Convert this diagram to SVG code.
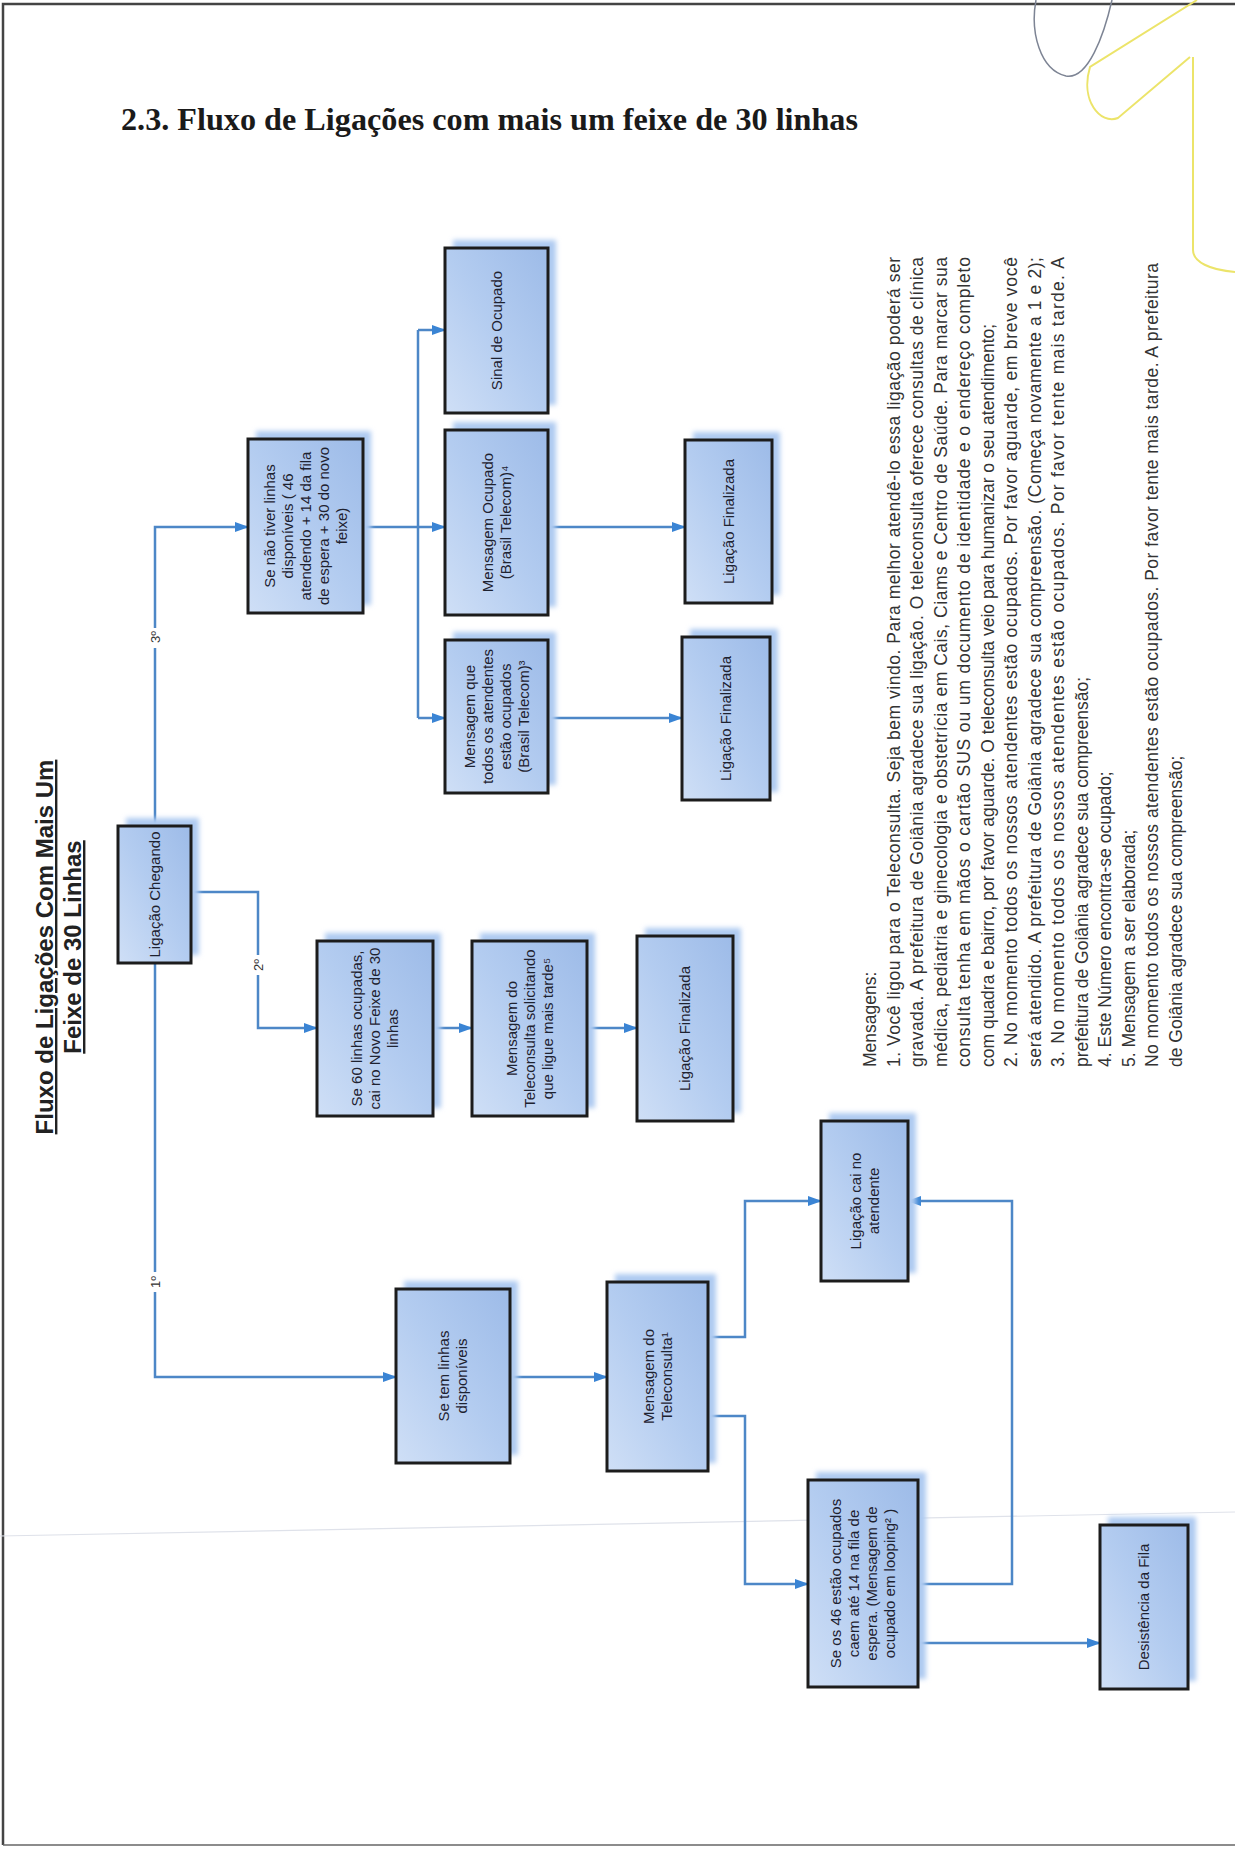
<svg xmlns="http://www.w3.org/2000/svg" width="1235" height="1850" viewBox="0 0 1235 1850">
<defs>
<linearGradient id="bg" x1="1" y1="0" x2="0" y2="1">
<stop offset="0" stop-color="#9dbbe8"/>
<stop offset="0.5" stop-color="#b3ccf0"/>
<stop offset="1" stop-color="#cfdff6"/>
</linearGradient>
<filter id="blur" x="-20%" y="-20%" width="140%" height="140%"><feGaussianBlur stdDeviation="2.5"/></filter>
<marker id="ah" markerWidth="14" markerHeight="10" refX="13" refY="5" orient="auto" markerUnits="userSpaceOnUse"><path d="M0,0 L14,5 L0,10 z" fill="#3a84d4"/></marker>
<style>
.sh{fill:#aecaf1;filter:url(#blur);}
.bx{fill:url(#bg);stroke:#1c1c1c;stroke-width:3;}
.t{font-family:"Liberation Sans",Arial,sans-serif;font-size:15px;fill:#1e2230;text-anchor:middle;}
.c{fill:none;stroke:#4d87c7;stroke-width:2.5;}
.ca{fill:none;stroke:#4d87c7;stroke-width:2.5;marker-end:url(#ah);}
.lb{font-family:"Liberation Sans",Arial,sans-serif;font-size:13px;fill:#333;text-anchor:middle;}
.m{font-family:"Liberation Sans",Arial,sans-serif;font-size:17.5px;fill:#333;}
.h{font-family:"Liberation Sans",Arial,sans-serif;font-size:24px;font-weight:bold;fill:#222;text-anchor:middle;text-decoration:underline;}
</style>
</defs>
<rect width="1235" height="1850" fill="#ffffff"/>
<!-- page border & decorations -->
<path d="M3,1845 V4 H1235" fill="none" stroke="#444" stroke-width="2.5"/>
<path d="M3,1845 H1235" fill="none" stroke="#666" stroke-width="1.5"/>
<path d="M1036,0 C1030,32 1040,70 1066,76 C1088,80 1104,35 1112,0" fill="none" stroke="#7d8494" stroke-width="1.5"/>
<path d="M1197,0 L1090,67 C1080,100 1100,125 1118,118 L1190,57 M1193,57 L1193,250 C1193,262 1210,270 1235,272" fill="none" stroke="#ece46a" stroke-width="2"/>
<path d="M0,1536 L1235,1512" stroke="#dfe2ea" stroke-width="1.2"/>
<text x="121" y="130" font-family="'Liberation Serif','Times New Roman',serif" font-size="32" font-weight="bold" fill="#1a1a1a" textLength="737" lengthAdjust="spacingAndGlyphs">2.3. Fluxo de Ligações com mais um feixe de 30 linhas</text>
<text class="h" transform="translate(53,947) rotate(-90)" x="0" y="0">Fluxo de Ligações Com Mais Um</text>
<text class="h" transform="translate(81,947) rotate(-90)" x="0" y="0">Feixe de 30 Linhas</text>

<g id="connectors">
<path class="ca" d="M155,826 V527 H248"/>
<path class="ca" d="M155,963 V1377 H396"/>
<path class="ca" d="M191,892 H258 V1028 H317"/>
<path class="ca" d="M433,1028 H472"/>
<path class="ca" d="M587,1028 H637"/>
<path class="ca" d="M363,527 H445"/>
<path class="c" d="M418,330 V718"/>
<path class="ca" d="M418,330 H445"/>
<path class="ca" d="M418,718 H445"/>
<path class="ca" d="M548,527 H685"/>
<path class="ca" d="M548,718 H682"/>
<path class="ca" d="M510,1377 H607"/>
<path class="ca" d="M708,1337 H745 V1201 H821"/>
<path class="ca" d="M708,1416 H745 V1584 H808"/>
<path class="ca" d="M918,1584 H1012 V1201 H908"/>
<path class="ca" d="M918,1643 H1100"/>
<rect x="146" y="628" width="18" height="20" fill="#fff"/>
<text class="lb" transform="translate(155,637) rotate(-90)" y="5">3º</text>
<rect x="249" y="955" width="18" height="20" fill="#fff"/>
<text class="lb" transform="translate(258,965) rotate(-90)" y="5">2º</text>
<rect x="146" y="1272" width="18" height="20" fill="#fff"/>
<text class="lb" transform="translate(155,1282) rotate(-90)" y="5">1º</text>
</g>

<g id="n-chegando">
<rect class="sh" x="126" y="818" width="73" height="137"/>
<rect class="bx" x="118" y="826" width="73" height="137"/>
<text class="t" transform="translate(154.5,894.5) rotate(-90)"><tspan x="0" y="5">Ligação Chegando</tspan></text>
</g>
<g id="n-semlinhas">
<rect class="sh" x="256" y="431" width="115" height="174"/>
<rect class="bx" x="248" y="439" width="115" height="174"/>
<text class="t" transform="translate(305.5,526) rotate(-90)"><tspan x="0" y="-31">Se não tiver linhas</tspan><tspan x="0" y="-13">disponíveis ( 46</tspan><tspan x="0" y="5">atendendo + 14 da fila</tspan><tspan x="0" y="23">de espera + 30 do novo</tspan><tspan x="0" y="41">feixe)</tspan></text>
</g>
<g id="n-sinal">
<rect class="sh" x="453" y="240" width="103" height="165"/>
<rect class="bx" x="445" y="248" width="103" height="165"/>
<text class="t" transform="translate(496.5,330.5) rotate(-90)"><tspan x="0" y="5">Sinal de Ocupado</tspan></text>
</g>
<g id="n-msgocupado">
<rect class="sh" x="453" y="422" width="103" height="185"/>
<rect class="bx" x="445" y="430" width="103" height="185"/>
<text class="t" transform="translate(496.5,522.5) rotate(-90)"><tspan x="0" y="-4">Mensagem Ocupado</tspan><tspan x="0" y="14">(Brasil Telecom)⁴</tspan></text>
</g>
<g id="n-msgtodos">
<rect class="sh" x="453" y="632" width="103" height="153"/>
<rect class="bx" x="445" y="640" width="103" height="153"/>
<text class="t" transform="translate(496.5,716.5) rotate(-90)"><tspan x="0" y="-22">Mensagem que</tspan><tspan x="0" y="-4">todos os atendentes</tspan><tspan x="0" y="14">estão ocupados</tspan><tspan x="0" y="32">(Brasil Telecom)³</tspan></text>
</g>
<g id="n-fim1">
<rect class="sh" x="693" y="432" width="87" height="163"/>
<rect class="bx" x="685" y="440" width="87" height="163"/>
<text class="t" transform="translate(728.5,521.5) rotate(-90)"><tspan x="0" y="5">Ligação Finalizada</tspan></text>
</g>
<g id="n-fim2">
<rect class="sh" x="690" y="629" width="88" height="163"/>
<rect class="bx" x="682" y="637" width="88" height="163"/>
<text class="t" transform="translate(726,718.5) rotate(-90)"><tspan x="0" y="5">Ligação Finalizada</tspan></text>
</g>
<g id="n-60linhas">
<rect class="sh" x="325" y="933" width="116" height="175"/>
<rect class="bx" x="317" y="941" width="116" height="175"/>
<text class="t" transform="translate(375,1028.5) rotate(-90)"><tspan x="0" y="-13">Se 60 linhas ocupadas,</tspan><tspan x="0" y="5">cai no Novo Feixe de 30</tspan><tspan x="0" y="23">linhas</tspan></text>
</g>
<g id="n-msgmaistarde">
<rect class="sh" x="480" y="933" width="115" height="175"/>
<rect class="bx" x="472" y="941" width="115" height="175"/>
<text class="t" transform="translate(529.5,1028.5) rotate(-90)"><tspan x="0" y="-13">Mensagem do</tspan><tspan x="0" y="5">Teleconsulta solicitando</tspan><tspan x="0" y="23">que ligue mais tarde⁵</tspan></text>
</g>
<g id="n-fim3">
<rect class="sh" x="645" y="928" width="96" height="185"/>
<rect class="bx" x="637" y="936" width="96" height="185"/>
<text class="t" transform="translate(685,1028.5) rotate(-90)"><tspan x="0" y="5">Ligação Finalizada</tspan></text>
</g>
<g id="n-temlinhas">
<rect class="sh" x="404" y="1281" width="114" height="174"/>
<rect class="bx" x="396" y="1289" width="114" height="174"/>
<text class="t" transform="translate(453,1376) rotate(-90)"><tspan x="0" y="-4">Se tem linhas</tspan><tspan x="0" y="14">disponíveis</tspan></text>
</g>
<g id="n-msgteleconsulta">
<rect class="sh" x="615" y="1274" width="101" height="189"/>
<rect class="bx" x="607" y="1282" width="101" height="189"/>
<text class="t" transform="translate(657.5,1376.5) rotate(-90)"><tspan x="0" y="-4">Mensagem do</tspan><tspan x="0" y="14">Teleconsulta¹</tspan></text>
</g>
<g id="n-atendente">
<rect class="sh" x="829" y="1113" width="87" height="160"/>
<rect class="bx" x="821" y="1121" width="87" height="160"/>
<text class="t" transform="translate(864.5,1201) rotate(-90)"><tspan x="0" y="-4">Ligação cai no</tspan><tspan x="0" y="14">atendente</tspan></text>
</g>
<g id="n-fila">
<rect class="sh" x="816" y="1472" width="110" height="207"/>
<rect class="bx" x="808" y="1480" width="110" height="207"/>
<text class="t" transform="translate(863,1583.5) rotate(-90)"><tspan x="0" y="-22">Se os 46 estão ocupados</tspan><tspan x="0" y="-4">caem até 14 na fila de</tspan><tspan x="0" y="14">espera. (Mensagem de</tspan><tspan x="0" y="32">ocupado em looping² )</tspan></text>
</g>
<g id="n-desistencia">
<rect class="sh" x="1108" y="1517" width="88" height="164"/>
<rect class="bx" x="1100" y="1525" width="88" height="164"/>
<text class="t" transform="translate(1144,1607) rotate(-90)"><tspan x="0" y="5">Desistência da Fila</tspan></text>
</g>

<g id="mensagens">
<text class="m" transform="translate(876,1067) rotate(-90)">Mensagens:</text>
<text class="m" transform="translate(899.5,1067) rotate(-90)" textLength="810" lengthAdjust="spacing">1. Você ligou para o Teleconsulta. Seja bem vindo. Para melhor atendê-lo essa ligação poderá ser</text>
<text class="m" transform="translate(923,1067) rotate(-90)" textLength="810" lengthAdjust="spacing">gravada. A prefeitura de Goiânia agradece sua ligação. O teleconsulta oferece consultas de clínica</text>
<text class="m" transform="translate(946.5,1067) rotate(-90)" textLength="810" lengthAdjust="spacing">médica, pediatria e ginecologia e obstetrícia em Cais, Ciams e Centro de Saúde. Para marcar sua</text>
<text class="m" transform="translate(970,1067) rotate(-90)" textLength="810" lengthAdjust="spacing">consulta tenha em mãos o cartão SUS ou um documento de identidade e o endereço completo</text>
<text class="m" transform="translate(993.5,1067) rotate(-90)">com quadra e bairro, por favor aguarde. O teleconsulta veio para humanizar o seu atendimento;</text>
<text class="m" transform="translate(1017,1067) rotate(-90)" textLength="810" lengthAdjust="spacing">2. No momento todos os nossos atendentes estão ocupados. Por favor aguarde, em breve você</text>
<text class="m" transform="translate(1040.5,1067) rotate(-90)" textLength="810" lengthAdjust="spacing">será atendido. A prefeitura de Goiânia agradece sua compreensão. (Começa novamente a 1 e 2);</text>
<text class="m" transform="translate(1064,1067) rotate(-90)" textLength="810" lengthAdjust="spacing">3. No momento todos os nossos atendentes estão ocupados. Por favor tente mais tarde. A</text>
<text class="m" transform="translate(1087.5,1067) rotate(-90)">prefeitura de Goiânia agradece sua compreensão;</text>
<text class="m" transform="translate(1111,1067) rotate(-90)">4. Este Número encontra-se ocupado;</text>
<text class="m" transform="translate(1134.5,1067) rotate(-90)">5. Mensagem a ser elaborada;</text>
<text class="m" transform="translate(1158,1067) rotate(-90)" textLength="804" lengthAdjust="spacing">No momento todos os nossos atendentes estão ocupados. Por favor tente mais tarde. A prefeitura</text>
<text class="m" transform="translate(1181.5,1067) rotate(-90)">de Goiânia agradece sua compreensão;</text>
</g>
</svg>
